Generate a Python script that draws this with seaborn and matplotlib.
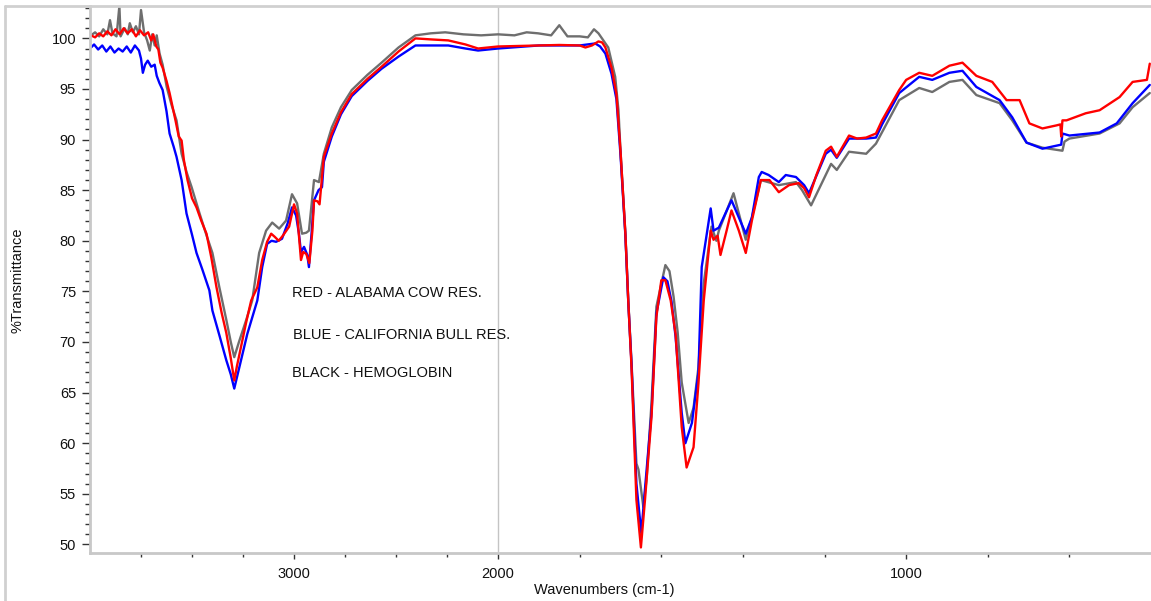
import numpy as np
import pandas as pd
import matplotlib
matplotlib.use("Agg")
import matplotlib.pyplot as plt
import seaborn as sns
from matplotlib.lines import Line2D
from matplotlib.ticker import FixedLocator, MultipleLocator

sns.set_theme(style="white")
plt.rcParams['font.family'] = ['Liberation Sans', 'DejaVu Sans']

# ---------------- data ----------------
red_wn = [3995, 3975, 3955, 3935, 3915, 3895, 3875, 3855, 3835, 3815, 3795, 3775, 3755, 3735, 3715,
          3700, 3690, 3675, 3665, 3655, 3644, 3625, 3610, 3595, 3580, 3565, 3551, 3540, 3522, 3500,
          3478, 3455, 3429, 3405, 3380, 3355, 3332, 3310, 3293, 3280, 3260, 3234, 3210, 3180, 3156,
          3132, 3112, 3095, 3075, 3055, 3024, 3000, 2985, 2966, 2955, 2940, 2925, 2910, 2902, 2885,
          2875, 2854, 2815, 2770, 2717, 2640, 2571, 2488, 2405, 2330, 2244, 2160, 2098, 2000, 1950,
          1902, 1850, 1800, 1786, 1770, 1754, 1745, 1737, 1722, 1710, 1700, 1688, 1681, 1673, 1661,
          1650, 1640, 1624, 1612, 1600, 1590, 1577, 1565, 1550, 1538, 1521, 1509, 1496, 1479, 1472,
          1462, 1455, 1440, 1428, 1410, 1393, 1378, 1356, 1335, 1312, 1287, 1263, 1250, 1238, 1220,
          1197, 1184, 1170, 1140, 1120, 1098, 1074, 1059, 1017, 1000, 968, 936, 894, 862, 828,
          789, 754, 722, 698, 666, 632, 622, 620, 617, 607, 560, 526, 477, 445, 410, 403]
red_t = [100.3, 100.1, 100.5, 100.2, 100.7, 100.3, 100.9, 100.4, 101.0, 100.5, 100.9, 100.2, 100.8, 100.3, 100.6,
         99.8, 100.4, 99.2, 98.9, 97.6, 97.1, 95.8, 94.6, 93.2, 91.8, 90.3, 89.9, 88.0, 86.0, 84.2,
         83.3, 82.0, 80.7, 78.3, 75.4, 72.9, 70.9, 68.4, 66.2, 67.6, 69.5, 72.0, 74.1, 75.4, 78.1,
         79.9, 80.7, 80.4, 80.0, 80.5, 81.4, 83.6, 82.7, 78.1, 78.9, 78.7, 77.8, 81.0, 84.0, 83.9,
         83.6, 88.3, 90.6, 92.7, 94.5, 96.0, 97.2, 98.7, 100.0, 99.9, 99.8, 99.4, 99.0, 99.2, 99.25,
         99.3, 99.35, 99.3, 99.1, 99.3, 99.7, 99.6, 99.1, 97.1, 94.5, 88.9, 80.7, 74.1, 67.5, 54.4,
         49.7, 54.4, 62.6, 72.5, 76.1, 76.1, 74.1, 70.8, 61.6, 57.6, 59.6, 65.9, 74.1, 81.0, 80.1,
         80.5, 78.6, 81.0, 83.0, 81.0, 78.8, 82.0, 86.0, 86.0, 84.8, 85.5, 85.7, 85.2, 84.3, 86.5,
         88.9, 89.3, 88.3, 90.4, 90.1, 90.2, 90.6, 91.9, 94.9, 95.9, 96.6, 96.3, 97.3, 97.6, 96.3,
         95.7, 93.9, 93.9, 91.6, 91.1, 91.4, 91.5, 90.3, 91.9, 91.9, 92.6, 92.9, 94.2, 95.7, 95.9, 97.5]

blue_wn = [3995, 3980, 3960, 3940, 3920, 3900, 3880, 3860, 3840, 3820, 3800, 3780, 3760, 3750, 3741,
           3730, 3717, 3700, 3683, 3673, 3660, 3644, 3625, 3610, 3590, 3576, 3551, 3527, 3500, 3478,
           3450, 3415, 3400, 3365, 3332, 3310, 3293, 3268, 3229, 3180, 3156, 3132, 3110, 3088, 3059,
           3030, 3010, 2990, 2976, 2966, 2951, 2935, 2927, 2915, 2902, 2880, 2863, 2854, 2815, 2770,
           2717, 2640, 2571, 2488, 2405, 2330, 2244, 2160, 2098, 2000, 1900, 1800, 1762, 1750, 1737,
           1722, 1710, 1700, 1688, 1681, 1673, 1661, 1649, 1640, 1624, 1612, 1595, 1585, 1575, 1565,
           1550, 1541, 1525, 1509, 1501, 1479, 1472, 1459, 1428, 1393, 1378, 1361, 1354, 1337, 1312,
           1295, 1270, 1250, 1238, 1197, 1184, 1170, 1140, 1098, 1074, 1059, 1017, 968, 936, 894,
           862, 828, 771, 740, 705, 666, 631, 620, 617, 600, 526, 484, 445, 403]
blue_t = [99.1, 99.4, 98.9, 99.3, 98.7, 99.2, 98.6, 99.0, 98.7, 99.2, 98.6, 99.3, 98.8, 98.0, 96.6,
          97.4, 97.8, 97.2, 97.4, 96.3, 95.6, 94.9, 92.8, 90.6, 89.3, 88.3, 86.0, 82.7, 80.6, 78.8,
          77.2, 75.1, 73.1, 70.6, 68.2, 66.8, 65.4, 67.5, 70.8, 74.1, 77.4, 79.7, 80.0, 79.9, 80.2,
          81.8, 83.3, 82.5, 80.7, 78.9, 79.4, 78.6, 77.4, 80.5, 84.0, 85.0, 85.3, 87.8, 90.3, 92.5,
          94.3, 95.8, 97.0, 98.2, 99.3, 99.3, 99.3, 99.0, 98.8, 99.0, 99.3, 99.3, 99.5, 99.2, 98.5,
          96.5, 94.0, 88.5, 80.5, 74.0, 67.8, 56.0, 51.1, 55.5, 63.0, 72.8, 76.4, 76.0, 74.0, 70.5,
          63.0, 60.0, 62.0, 67.0, 77.4, 83.2, 81.0, 81.3, 84.0, 80.7, 82.3, 86.3, 86.8, 86.5, 85.8,
          86.5, 86.3, 85.5, 84.7, 88.6, 89.0, 88.2, 90.1, 90.1, 90.2, 91.5, 94.6, 96.2, 95.9, 96.6,
          96.8, 95.2, 93.9, 92.2, 89.7, 89.1, 89.4, 89.5, 90.6, 90.4, 90.7, 91.6, 93.6, 95.4]

gray_wn = [3995, 3975, 3955, 3935, 3915, 3902, 3890, 3870, 3856, 3850, 3830, 3815, 3805, 3790, 3775,
           3760, 3750, 3735, 3720, 3707, 3695, 3683, 3673, 3659, 3644, 3624, 3600, 3576, 3551, 3527,
           3502, 3463, 3430, 3400, 3366, 3332, 3310, 3293, 3270, 3234, 3205, 3171, 3137, 3107, 3073,
           3039, 3010, 2985, 2961, 2940, 2927, 2902, 2878, 2854, 2815, 2770, 2717, 2640, 2571, 2488,
           2405, 2330, 2259, 2170, 2083, 2000, 1960, 1930, 1902, 1870, 1850, 1830, 1800, 1780, 1765,
           1754, 1730, 1713, 1705, 1700, 1688, 1681, 1673, 1661, 1656, 1644, 1636, 1624, 1612, 1590,
           1580, 1570, 1560, 1550, 1533, 1521, 1509, 1496, 1477, 1465, 1459, 1423, 1393, 1378, 1356,
           1312, 1270, 1255, 1233, 1184, 1170, 1140, 1098, 1074, 1017, 968, 936, 894, 862, 828,
           771, 740, 705, 666, 617, 612, 600, 526, 477, 445, 403]
gray_t = [100.3, 100.6, 100.2, 100.9, 100.4, 101.8, 100.5, 100.2, 103.2, 100.2, 101.0, 100.4, 101.5, 100.6, 101.2,
          100.4, 102.8, 100.6, 99.8, 98.8, 100.4, 99.3, 100.3, 98.5, 97.4, 95.2, 93.4, 91.9, 88.6, 86.8,
          85.3, 82.7, 80.6, 78.8, 75.4, 72.2, 70.0, 68.5, 70.0, 72.2, 74.1, 78.8, 81.0, 81.8, 81.2,
          82.0, 84.6, 83.7, 80.7, 80.8, 81.0, 86.0, 85.8, 88.6, 91.2, 93.2, 94.9, 96.4, 97.6, 99.1,
          100.3, 100.5, 100.6, 100.4, 100.3, 100.4, 100.3, 100.6, 100.5, 100.3, 101.3, 100.2, 100.2, 100.1, 100.9,
          100.5, 99.1, 96.2, 92.9, 88.9, 80.7, 74.1, 68.0, 58.0, 57.4, 53.7, 56.5, 64.0, 73.5, 77.6,
          77.0, 74.5, 71.0, 66.0, 62.0, 63.5, 67.5, 75.8, 81.4, 80.0, 81.0, 84.7, 80.1, 82.3, 86.0,
          85.5, 85.8, 85.0, 83.5, 87.6, 87.0, 88.8, 88.6, 89.6, 93.9, 95.1, 94.7, 95.7, 95.9, 94.4,
          93.6, 91.9, 89.7, 89.2, 88.9, 89.8, 90.1, 90.6, 91.6, 93.2, 94.6]

series_names = ["BLACK - HEMOGLOBIN", "BLUE - CALIFORNIA BULL RES.", "RED - ALABAMA COW RES."]
series_colors = ["#6e6e6e", "#0000ff", "#ff0000"]

df = pd.concat([
    pd.DataFrame({"wn": gray_wn, "T": gray_t, "series": series_names[0]}),
    pd.DataFrame({"wn": blue_wn, "T": blue_t, "series": series_names[1]}),
    pd.DataFrame({"wn": red_wn, "T": red_t, "series": series_names[2]}),
], ignore_index=True)

# ---------------- figure ----------------
W, H = 1151, 601
fig = plt.figure(figsize=(W / 100, H / 100), dpi=100)
fig.patch.set_facecolor("white")
ax = fig.add_axes([90 / W, 48 / H, (W - 90) / W, (553 - 6) / H])


def fwd(w):
    w = np.asarray(w, dtype=float)
    return np.where(w <= 2000, w, 2000 + (w - 2000) * 0.5)


def inv(u):
    u = np.asarray(u, dtype=float)
    return np.where(u <= 2000, u, 2000 + (u - 2000) * 2.0)


ax.set_xscale("function", functions=(fwd, inv))

ax.axvline(2000, color="#c4c4c4", lw=1.0, zorder=0)

sns.lineplot(data=df, x="wn", y="T", hue="series", hue_order=series_names,
             palette=dict(zip(series_names, series_colors)), sort=False,
             estimator=None, legend=False, lw=1.7, ax=ax)

ax.set_xlim(4000, 400)
ax.set_ylim(49.15, 103.2)

ax.xaxis.set_major_locator(FixedLocator([3000, 2000, 1000]))
ax.xaxis.set_minor_locator(FixedLocator([3750, 3500, 3250, 2750, 2500, 2250,
                                         1800, 1600, 1400, 1200, 800, 600]))
ax.xaxis.set_major_formatter(matplotlib.ticker.FuncFormatter(lambda v, p: f"{int(round(v))}"))
ax.xaxis.set_minor_formatter(matplotlib.ticker.NullFormatter())
ax.yaxis.set_major_locator(MultipleLocator(5))
ax.yaxis.set_minor_locator(MultipleLocator(1))

ax.tick_params(axis="both", which="both", direction="out", bottom=True, left=True,
               colors="#333333", labelcolor="#111111", labelsize=10.5, width=1.0)
ax.tick_params(axis="y", which="major", length=6, pad=4)
ax.tick_params(axis="y", which="minor", length=3.5)
ax.tick_params(axis="x", which="major", length=4, pad=6)
ax.tick_params(axis="x", which="minor", length=3)

for s in ["top", "right"]:
    ax.spines[s].set_visible(False)
for s in ["left", "bottom"]:
    ax.spines[s].set_color("#c8c8c8")
    ax.spines[s].set_linewidth(2.0)

ax.set_xlabel("")
ax.set_ylabel("")
fig.text(604 / W, 1 - 590 / H, "Wavenumbers (cm-1)", ha="center", va="center",
         fontsize=10.5, color="#111111")
fig.text(18 / W, 1 - 280 / H, "%Transmittance", ha="center", va="center",
         rotation=90, fontsize=10.5, color="#111111")

fig.text(292 / W, 1 - 293 / H, series_names[2], ha="left", va="center", fontsize=10.5, color="#111111")
fig.text(293 / W, 1 - 335 / H, series_names[1], ha="left", va="center", fontsize=10.5, color="#111111")
fig.text(292 / W, 1 - 373 / H, series_names[0], ha="left", va="center", fontsize=10.5, color="#111111")

# outer frame lines
fig.add_artist(Line2D([5 / W, 5 / W], [0, 1 - 6 / H], transform=fig.transFigure,
                      color="#d0d0d0", lw=2.0))
fig.add_artist(Line2D([5 / W, 1], [1 - 6 / H, 1 - 6 / H], transform=fig.transFigure,
                      color="#d0d0d0", lw=2.0))

fig.savefig("out.png", dpi=100, facecolor="white")
